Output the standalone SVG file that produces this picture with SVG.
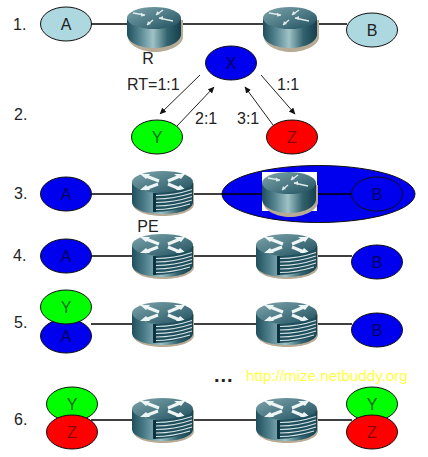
<svg xmlns="http://www.w3.org/2000/svg" xmlns:xlink="http://www.w3.org/1999/xlink" width="428" height="457" viewBox="0 0 428 457">
<style>
text{font-family:"Liberation Sans",Arial,sans-serif;font-size:16px;fill:#222}
.m{text-anchor:middle}
.n{stroke:#111;stroke-width:1}
.lb{fill:#add8e0}.bl{fill:#0000ee}.gr{fill:#00ff00}.rd{fill:#ff0000}
.tb{fill:#000060}.tg{fill:#006a10}.tr{fill:#900000}
.c{stroke:#000;stroke-width:1.300;fill:none}
.a{stroke:#222;stroke-width:1;fill:none;marker-end:url(#ah)}
</style>
<defs>
<marker id="ah" markerWidth="7" markerHeight="7" refX="6" refY="3" orient="auto" markerUnits="userSpaceOnUse"><path d="M0 0L6.500 3L0 6Z" fill="#111"/></marker>
<linearGradient id="side" x1="0" x2="1" y1="0" y2="0">
<stop offset="0" stop-color="#1f4f5c"/><stop offset=".22" stop-color="#4f808c"/><stop offset=".48" stop-color="#9fc2c6"/><stop offset=".75" stop-color="#32626e"/><stop offset="1" stop-color="#153f4c"/>
</linearGradient>
<linearGradient id="top" x1="0" x2="1" y1="0" y2="1">
<stop offset="0" stop-color="#7ea4ab"/><stop offset=".5" stop-color="#4f7c87"/><stop offset="1" stop-color="#1f4e5b"/>
</linearGradient>
<g id="r1">
<path d="M1 13V30C1 38 14 45 28 45S56 38 56 30V13Z" fill="#b7ab96"/>
<path d="M0 11V27C0 35 12 41 27 41S54 35 54 27V11Z" fill="url(#side)"/>
<ellipse cx="27" cy="11" rx="27" ry="11" fill="url(#top)"/>
<path d="M6 6L18 8M36 3L29 8M32 11L46 14M26 13L20 18" stroke="#dfeaea" stroke-width="1.500" fill="none"/>
<path d="M18 8.700L14 5.500L14 9.500ZM29 8L30 4L33 7ZM32 11L36 9L36 13ZM20 18L21 14L24 17Z" fill="#dfeaea"/>
</g>
<g id="r2">
<path d="M1 12V33C1 40 14 45 31 45S62 40 62 33V12Z" fill="#b7ab96"/>
<path d="M0 11V31C0 38 13 43 30.500 43S61 38 61 31V11Z" fill="url(#side)"/>
<ellipse cx="30.500" cy="11" rx="30.500" ry="11" fill="url(#top)"/>
<path d="M14 5L27 10M36 13L48 18M48 5L36 10M26 13L13 18" stroke="#eef5f5" stroke-width="3" fill="none"/>
<path d="M8 3H18L14 8ZM54 19H44L48 14ZM42 3H53L49 8ZM8 19H18L14 14Z" fill="#eef5f5"/>
<path d="M21 22C35 22 48 20 60 15V33C48 38 35 41 21 41Z" fill="#1f4f5c"/>
<rect x="21" y="22" width="3" height="19" fill="#0b3240"/>
<path d="M24 24.500C36 24.500 48 22.500 60 18.500M24 28C36 28 48 26 60 22M24 31.500C36 31.500 48 29.500 60 25.500M24 35C36 35 48 33 60 29M24 38.500C36 38.500 48 36 58 33" stroke="#d6e4e6" stroke-width="1.200" fill="none"/>
</g>
</defs>
<rect width="428" height="457" fill="#fff"/>
<g id="connectors">
<path class="c" d="M91 24H127M182 24H263M318 24H347"/>
<path class="a" d="M200 75L160 114"/>
<path class="a" d="M177 126L214 87"/>
<path class="a" d="M261 75L295 114"/>
<path class="a" d="M273 125L245 87"/>
<path class="c" d="M91 194H132M193 194H222"/>
<path class="c" d="M91 256H132M193 256H256M318 256H352"/>
<path class="c" d="M91 324H132M193 324H256M318 324H352"/>
<path class="c" d="M91 420H132M193 420H256M318 420H352"/>
</g>
<g id="labels">
<text x="13" y="30">1.</text><text x="14" y="120">2.</text><text x="14" y="199">3.</text><text x="13" y="261">4.</text><text x="14" y="328">5.</text><text x="14" y="425">6.</text>
<text class="m" x="148" y="64">R</text>
<text x="127" y="90">RT=1:1</text>
<text x="195" y="124">2:1</text>
<text x="237" y="124">3:1</text>
<text x="277" y="90">1:1</text>
<text class="m" x="148" y="232">PE</text>
<text x="214" y="382" style="font-size:20px;font-weight:bold;letter-spacing:1px" fill="#000">...</text>
<text x="246" y="381" style="font-size:15.200px;fill:#ffff44">http://mize.netbuddy.org</text>
</g>
<g id="row1">
<g id="node-a1"><ellipse class="n lb" cx="66" cy="24" rx="25.500" ry="17"/><text class="m" x="66" y="30">A</text></g>
<use id="router-r1" xlink:href="#r1" href="#r1" x="127" y="7"/>
<use id="router-r2" xlink:href="#r1" href="#r1" x="263" y="7"/>
<g id="node-b1"><ellipse class="n lb" cx="372" cy="30" rx="25.500" ry="17"/><text class="m" x="372" y="36">B</text></g>
</g>
<g id="row2">
<g id="node-x"><ellipse class="n bl" cx="231" cy="63" rx="25.500" ry="17"/><text class="m tb" x="231" y="69">X</text></g>
<g id="node-y"><ellipse class="n gr" cx="157" cy="137" rx="25.500" ry="17"/><text class="m tg" x="157" y="143">Y</text></g>
<g id="node-z"><ellipse class="n rd" cx="292" cy="137" rx="25.500" ry="17"/><text class="m tr" x="292" y="143">Z</text></g>
</g>
<g id="row3">
<g id="node-a3"><ellipse class="n bl" cx="66" cy="194" rx="25.500" ry="17"/><text class="m tb" x="66" y="200">A</text></g>
<use id="router-pe3" xlink:href="#r2" href="#r2" x="132" y="171"/>
<g id="node-vpn"><ellipse class="n bl" cx="318.500" cy="194" rx="96.500" ry="28.500"/></g>
<path class="c" d="M222 194H352"/>
<rect x="262" y="172" width="55" height="39" fill="#fff"/>
<use id="router-p3" xlink:href="#r1" href="#r1" x="262" y="172"/>
<g id="node-b3"><ellipse class="n bl" cx="377" cy="194" rx="25.500" ry="17"/><text class="m tb" x="377" y="200">B</text></g>
</g>
<g id="row4">
<g id="node-a4"><ellipse class="n bl" cx="66" cy="256" rx="25.500" ry="17"/><text class="m tb" x="66" y="262">A</text></g>
<use id="router-pe4a" xlink:href="#r2" href="#r2" x="132" y="234"/>
<use id="router-pe4b" xlink:href="#r2" href="#r2" x="256" y="234"/>
<g id="node-b4"><ellipse class="n bl" cx="377" cy="262" rx="25.500" ry="17"/><text class="m tb" x="377" y="268">B</text></g>
</g>
<g id="row5">
<g id="node-a5"><ellipse class="n bl" cx="66" cy="336" rx="25.500" ry="17"/><text class="m tb" x="66" y="342">A</text></g>
<g id="node-y5"><ellipse class="n gr" cx="66" cy="307" rx="25.500" ry="17"/><text class="m tg" x="66" y="313">Y</text></g>
<use id="router-pe5a" xlink:href="#r2" href="#r2" x="132" y="302"/>
<use id="router-pe5b" xlink:href="#r2" href="#r2" x="256" y="302"/>
<g id="node-b5"><ellipse class="n bl" cx="377" cy="330" rx="25.500" ry="17"/><text class="m tb" x="377" y="336">B</text></g>
</g>
<g id="row6">
<g id="node-y6a"><ellipse class="n gr" cx="72" cy="404" rx="25.500" ry="17"/><text class="m tg" x="72" y="410">Y</text></g>
<g id="node-z6a"><ellipse class="n rd" cx="72" cy="432" rx="25.500" ry="17"/><text class="m tr" x="72" y="438">Z</text></g>
<use id="router-pe6a" xlink:href="#r2" href="#r2" x="132" y="398"/>
<use id="router-pe6b" xlink:href="#r2" href="#r2" x="256" y="398"/>
<g id="node-y6b"><ellipse class="n gr" cx="372" cy="404" rx="25.500" ry="17"/><text class="m tg" x="372" y="410">Y</text></g>
<g id="node-z6b"><ellipse class="n rd" cx="372" cy="432" rx="25.500" ry="17"/><text class="m tr" x="372" y="438">Z</text></g>
</g>
</svg>
